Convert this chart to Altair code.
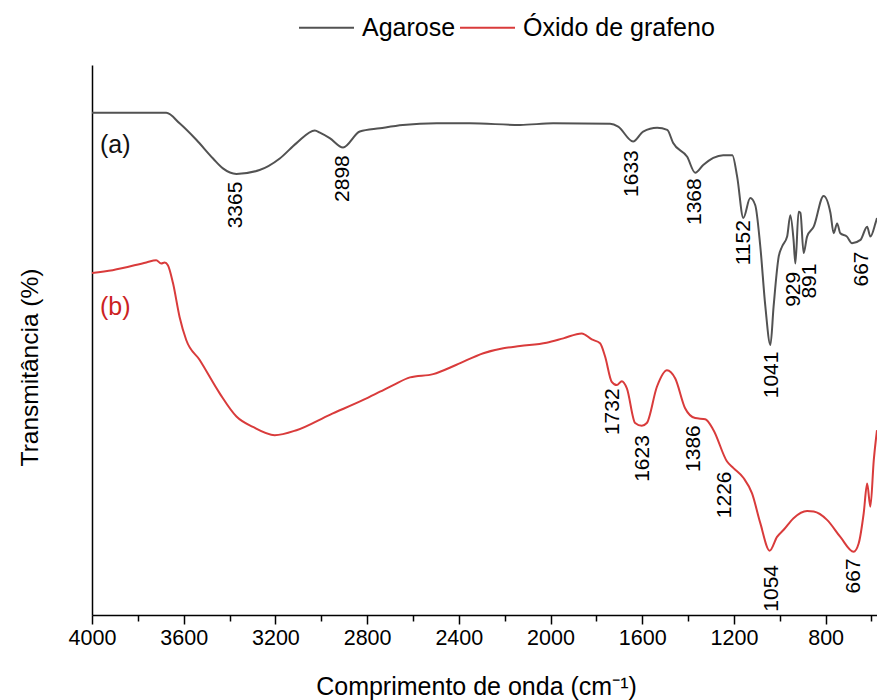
import altair as alt
import pandas as pd

# ---- data (wavenumber cm-1, transmittance a.u.) ----
agar_wn = [4000, 3836, 3676, 3618, 3545, 3472, 3429, 3370, 3269, 3181, 3108, 3028, 3006,
           2963, 2905, 2832, 2744, 2644, 2496, 2352, 2133, 1989, 1740, 1705, 1640, 1596,
           1535, 1491, 1465, 1404, 1369, 1334, 1290, 1247, 1207, 1186, 1159, 1129, 1107,
           1085, 1063, 1041, 1027, 1005, 990, 968, 954, 940, 932, 918, 910, 896, 881, 852,
           809, 779, 765, 750, 736, 707, 685, 648, 619, 605, 583, 576]
agar_t = [91.3, 91.3, 91.3, 89.4, 86.4, 83.0, 81.2, 80.2, 80.9, 83.0, 85.8, 88.1, 87.7,
          86.7, 85.0, 87.9, 88.5, 89.1, 89.4, 89.4, 89.1, 89.4, 89.3, 88.8, 86.1, 87.9,
          88.6, 88.2, 85.8, 83.3, 80.4, 81.8, 83.1, 83.6, 83.6, 79.7, 72.2, 75.8, 74.5,
          67.0, 56.1, 49.1, 56.1, 65.1, 67.0, 68.8, 72.7, 68.2, 63.9, 73.3, 73.1, 65.8, 68.8, 70.6,
          76.2, 73.1, 69.4, 71.2, 69.4, 68.8, 67.6, 68.2, 70.6, 68.8, 71.2, 72.2]

go_wn = [4000, 3910, 3763, 3720, 3698, 3683, 3669, 3647, 3618, 3589, 3531, 3443, 3370,
         3298, 3203, 3108, 2963, 2817, 2744, 2686, 2613, 2512, 2410, 2293, 2206, 2133,
         2017, 1944, 1864, 1820, 1784, 1762, 1733, 1711, 1689, 1667, 1631, 1602, 1580,
         1536, 1492, 1456, 1413, 1369, 1325, 1289, 1230, 1202, 1158, 1121, 1085, 1044,
         1012, 983, 940, 881, 852, 794, 736, 678, 656, 634, 619, 605, 590, 576]
go_t = [62.2, 62.7, 64.1, 64.5, 63.9, 64.1, 63.6, 60.4, 54.2, 50.0, 46.4, 40.3, 36.1,
        34.2, 32.7, 33.6, 36.4, 39.1, 40.6, 41.8, 43.2, 43.8, 45.5, 47.6, 48.5, 48.9,
        49.5, 50.3, 51.2, 50.1, 49.4, 47.0, 42.4, 41.8, 42.5, 41.2, 34.9, 34.4, 34.9,
        41.5, 44.5, 43.0, 37.6, 35.8, 35.6, 33.6, 27.9, 26.7, 24.9, 22.1, 16.7, 11.7,
        14.2, 15.5, 17.6, 18.9, 18.8, 17.3, 14.2, 11.5, 13.0, 18.5, 23.9, 19.7, 28.2, 33.6]

series_names = ["Agarose", "Óxido de grafeno"]
series_colors = ["#525252", "#d93b3b"]

peak_text = ["3365", "2898", "1633", "1368", "1152", "929", "891", "667", "1041",
             "1732", "1623", "1386", "1226", "1054", "667"]
peak_wn = [3370, 2905, 1645, 1369, 1158, 940, 867, 641, 1034,
           1726, 1595, 1376, 1238, 1034, 678]
peak_t = [78.8, 83.6, 84.5, 79.4, 71.8, 62.4, 63.9, 66.1, 47.9,
          41.2, 32.7, 34.5, 26.1, 9.1, 10.3]

tag_text = ["(a)", "(b)"]
tag_wn = [3965, 3965]
tag_t = [85.5, 56.0]
tag_colors = ["#111111", "#cc2222"]

x_ticks = list(range(4000, 599, -200))

FONT = "Liberation Sans"

df = pd.concat([
    pd.DataFrame({"wn": agar_wn, "t": agar_t, "series": series_names[0]}),
    pd.DataFrame({"wn": go_wn, "t": go_t, "series": series_names[1]}),
])
peaks = pd.DataFrame({"label": peak_text, "wn": peak_wn, "t": peak_t})
tags = pd.DataFrame({"label": tag_text, "wn": tag_wn, "t": tag_t, "c": tag_colors})

xscale = alt.Scale(domain=[4000, 576], nice=False, zero=False)
yscale = alt.Scale(domain=[0, 100], nice=False, zero=False)

x_axis = alt.Axis(
    values=x_ticks,
    labelExpr="datum.value % 400 === 0 ? datum.value : ''",
    tickSize={"condition": {"test": "datum.value % 400 === 0", "value": 9}, "value": 6},
    tickColor="black", tickWidth=1.5, domainColor="black", domainWidth=1.5,
    labelFont=FONT, labelFontSize=21.5, labelColor="black", labelPadding=3,
    labelFlush=False, labelOverlap=False,
    titleFont=FONT, titleFontSize=25, titleFontWeight="normal", titleColor="black",
    titleX=384, titleY=59, grid=False,
)
y_axis = alt.Axis(
    ticks=False, labels=False, grid=False, domainColor="black", domainWidth=1.5,
    titleFont=FONT, titleFontSize=24.5, titleFontWeight="normal", titleColor="black",
    titlePadding=50, titleY=302,
)

lines = alt.Chart(df).mark_line(strokeWidth=2, interpolate="monotone").encode(
    x=alt.X("wn:Q", scale=xscale, axis=x_axis, title="Comprimento de onda (cm⁻¹)"),
    y=alt.Y("t:Q", scale=yscale, axis=y_axis, title="Transmitância (%)"),
    color=alt.Color(
        "series:N",
        scale=alt.Scale(domain=series_names, range=series_colors),
        legend=alt.Legend(
            title=None, orient="none", direction="horizontal",
            legendX=206, legendY=-66,
            symbolType="stroke", symbolSize=3025, symbolStrokeWidth=2,
            labelFont=FONT, labelFontSize=25, labelColor="black", labelLimit=400,
            labelOffset=7, columnPadding=0, padding=0,
        ),
    ),
)

peak_layer = alt.Chart(peaks).mark_text(
    angle=270, align="right", baseline="middle", font=FONT, fontSize=21, color="black"
).encode(
    x=alt.X("wn:Q", scale=xscale),
    y=alt.Y("t:Q", scale=yscale),
    text="label:N",
)

tag_layer = alt.Chart(tags).mark_text(
    align="left", baseline="middle", font=FONT, fontSize=25
).encode(
    x=alt.X("wn:Q", scale=xscale),
    y=alt.Y("t:Q", scale=yscale),
    text="label:N",
    color=alt.Color("c:N", scale=None),
)

chart = alt.layer(lines, peak_layer, tag_layer).properties(
    width=785, height=550,
    padding={"left": 92, "top": 65, "right": 0, "bottom": 85},
    autosize=alt.AutoSizeParams(type="none"),
    background="white",
).configure_view(stroke=None)

chart.save("out.html", embed_options={"renderer": "svg", "actions": False})
